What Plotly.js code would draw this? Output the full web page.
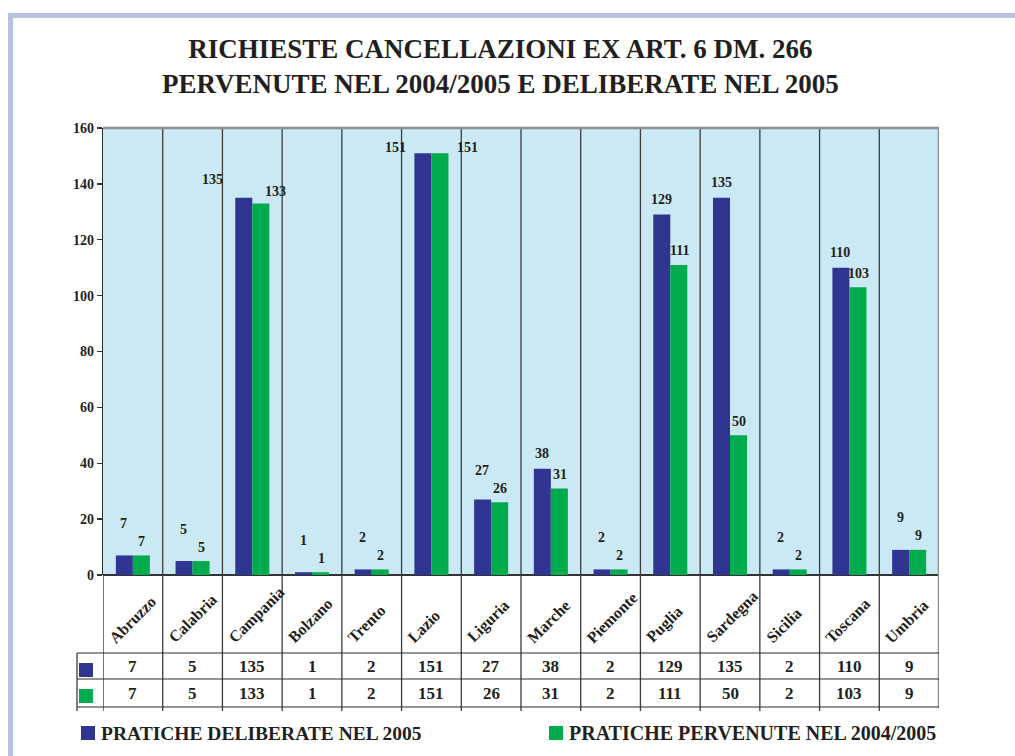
<!DOCTYPE html>
<html>
<head>
<meta charset="utf-8">
<script src="https://cdn.plot.ly/plotly-3.0.1.min.js"></script>
<style>html,body{margin:0;padding:0;background:#fff;}#chart{width:1015px;height:756px;}</style>
</head>
<body>
<div id="chart"></div>
<script>
// ---- data ----
const categories = ['Abruzzo','Calabria','Campania','Bolzano','Trento','Lazio','Liguria','Marche','Piemonte','Puglia','Sardegna','Sicilia','Toscana','Umbria'];
const deliberate = [7,5,135,1,2,151,27,38,2,129,135,2,110,9];
const pervenute  = [7,5,133,1,2,151,26,31,2,111,50,2,103,9];
const seriesNames = ['PRATICHE DELIBERATE NEL 2005','PRATICHE PERVENUTE NEL 2004/2005'];
const titleLines = ['RICHIESTE CANCELLAZIONI EX ART. 6 DM. 266','PERVENUTE NEL 2004/2005 E DELIBERATE NEL 2005'];
const yTicks = [0,20,40,60,80,100,120,140,160];

// ---- style ----
const BLUE = '#303592', GREEN = '#00ab4e', BG = '#cbe9f4', INK = '#231f20';
const FONT = 'Liberation Serif, Times New Roman, serif';
const W = 1015, H = 756, L = 103, R = 76, T = 128, B = 181;
const PW = W - L - R, PH = H - T - B;
const px = v => (v - L) / PW;          // page px -> paper x
const py = v => (H - B - v) / PH;      // page px -> paper y
const S = PH / 160;                    // px per unit

const traces = [
  {type:'bar', x:categories, y:deliberate, name:seriesNames[0], marker:{color:BLUE}, hoverinfo:'x+y'},
  {type:'bar', x:categories, y:pervenute,  name:seriesNames[1], marker:{color:GREEN}, hoverinfo:'x+y'}
];

const shapes = [];
const annotations = [];
const lineCol = '#2b2b2b', grayCol = '#8c9196';

// frame
shapes.push({type:'rect', xref:'paper', yref:'paper', x0:px(8), x1:px(1015), y0:py(13), y1:py(18), fillcolor:'#b9c2e3', line:{width:0}});
shapes.push({type:'rect', xref:'paper', yref:'paper', x0:px(8), x1:px(13), y0:py(13), y1:py(756), fillcolor:'#b9c2e3', line:{width:0}});

// category separators (plot + table)
for (let i = 0; i < categories.length - 1; i++) {
  shapes.push({type:'line', xref:'x', yref:'paper', x0:i+0.5, x1:i+0.5, y0:py(711), y1:1, line:{color:'#3c3c3c', width:1.3}});
}
// left axis continued into table
shapes.push({type:'line', xref:'x', yref:'paper', x0:-0.5, x1:-0.5, y0:py(711), y1:0, line:{color:lineCol, width:1.3}});
// right and top border (gray)
shapes.push({type:'line', xref:'x', yref:'paper', x0:13.5, x1:13.5, y0:py(708), y1:1, line:{color:grayCol, width:2.5}});
shapes.push({type:'line', xref:'x', yref:'paper', x0:-0.5, x1:13.5, y0:1, y1:1, line:{color:grayCol, width:2.5}});
// table horizontals
[653, 679, 707].forEach(yy => {
  shapes.push({type:'line', xref:'paper', yref:'paper', x0:px(77), x1:px(939), y0:py(yy), y1:py(yy), line:{color:lineCol, width:1.2}});
});
shapes.push({type:'line', xref:'paper', yref:'paper', x0:px(77), x1:px(77), y0:py(711), y1:py(653), line:{color:lineCol, width:1.2}});
// key squares in table
shapes.push({type:'rect', xref:'paper', yref:'paper', x0:px(79), x1:px(93), y0:py(677), y1:py(663), fillcolor:BLUE, line:{width:0}});
shapes.push({type:'rect', xref:'paper', yref:'paper', x0:px(79), x1:px(93), y0:py(703), y1:py(689), fillcolor:GREEN, line:{width:0}});
// legend squares
shapes.push({type:'rect', xref:'paper', yref:'paper', x0:px(81), x1:px(95), y0:py(740), y1:py(726), fillcolor:BLUE, line:{width:0}});
shapes.push({type:'rect', xref:'paper', yref:'paper', x0:px(549), x1:px(563), y0:py(740), y1:py(726), fillcolor:GREEN, line:{width:0}});

const fBold = (size) => ({family:FONT, size:size, color:INK, weight:'bold'});

// value labels
const nudge = {Campania:[-40,18,23,12], Lazio:[-36,6,36,6]};
categories.forEach((c, i) => {
  const b = deliberate[i], g = pervenute[i];
  let bx = -9, by = Math.max(15, (g - b) * S + 32), gx = 9, gy = 14;
  if (nudge[c]) { [bx, by, gx, gy] = nudge[c]; }
  annotations.push({xref:'x', yref:'y', x:i, y:b, xshift:bx, yshift:by, text:String(b), showarrow:false, xanchor:'center', yanchor:'middle', font:fBold(14)});
  annotations.push({xref:'x', yref:'y', x:i, y:g, xshift:gx, yshift:gy, text:String(g), showarrow:false, xanchor:'center', yanchor:'middle', font:fBold(14)});
  // category label (rotated)
  annotations.push({xref:'x', yref:'paper', x:i-0.5, y:py(649), text:c, textangle:-45, showarrow:false, xanchor:'left', yanchor:'bottom', font:fBold(16)});
  // table values
  annotations.push({xref:'x', yref:'paper', x:i, y:py(666), text:String(b), showarrow:false, xanchor:'center', yanchor:'middle', font:fBold(17)});
  annotations.push({xref:'x', yref:'paper', x:i, y:py(693), text:String(g), showarrow:false, xanchor:'center', yanchor:'middle', font:fBold(17)});
});
// legend texts
annotations.push({xref:'paper', yref:'paper', x:px(99), y:py(733), text:seriesNames[0], showarrow:false, xanchor:'left', yanchor:'middle', font:fBold(19.5)});
annotations.push({xref:'paper', yref:'paper', x:px(567), y:py(733), text:seriesNames[1], showarrow:false, xanchor:'left', yanchor:'middle', font:fBold(20)});

const layout = {
  width:W, height:H,
  margin:{l:L, r:R, t:T, b:B, pad:0},
  paper_bgcolor:'#ffffff', plot_bgcolor:BG,
  showlegend:false,
  barmode:'group', bargap:0.43, bargroupgap:0,
  title:{text:titleLines.join('<br>'), font:{family:FONT, size:27, color:INK, weight:'bold'}, x:0.493, xref:'container', xanchor:'center', y:1-58/H, yref:'container', yanchor:'top'},
  xaxis:{type:'category', range:[-0.5,13.5], showticklabels:false, ticks:'', showgrid:false, showline:false, zeroline:false, fixedrange:true},
  yaxis:{range:[0,160], tickvals:yTicks, ticktext:yTicks.map(String), ticks:'outside', ticklen:5, tickwidth:1.3, tickcolor:'#333', showgrid:false, showline:true, linecolor:lineCol, linewidth:1.3, zeroline:true, zerolinecolor:'#333', zerolinewidth:2, tickfont:fBold(14), fixedrange:true},
  shapes:shapes,
  annotations:annotations
};

Plotly.newPlot('chart', traces, layout, {displayModeBar:false, staticPlot:true});
</script>
</body>
</html>
